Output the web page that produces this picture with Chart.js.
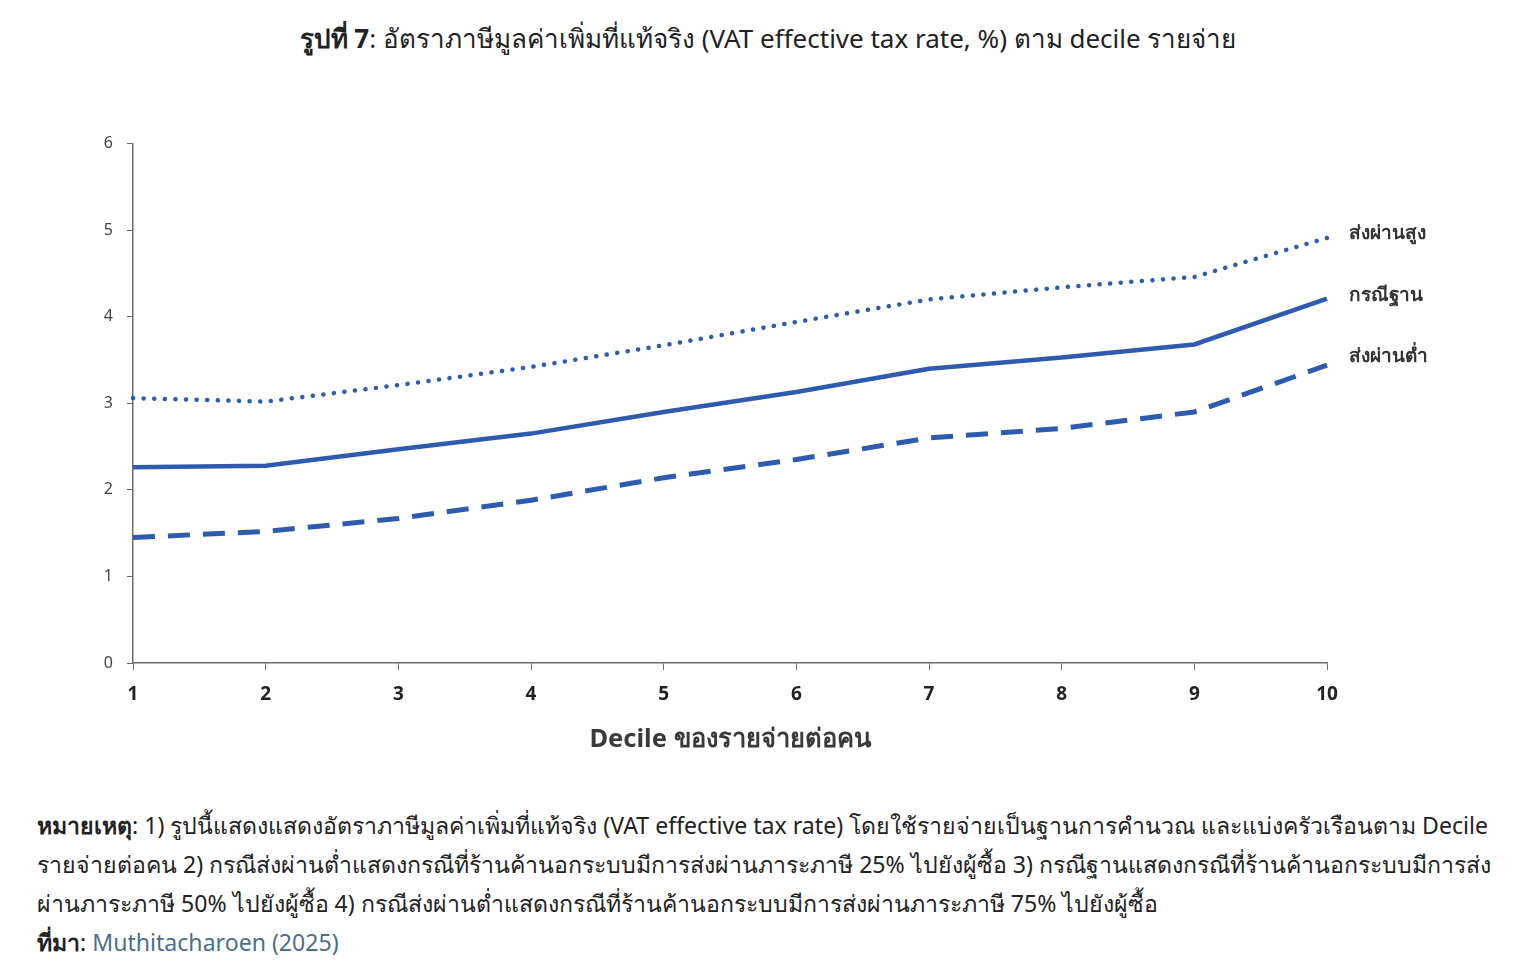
<!DOCTYPE html>
<html>
<head>
<meta charset="utf-8">
<script src="https://cdn.jsdelivr.net/npm/chart.js@4.4.1/dist/chart.umd.min.js"></script>
<style>
    body {
        margin: 0;
        background: #fff;
        width: 1536px;
        height: 972px;
        position: relative;
        overflow: hidden;
        font-family: "Noto Sans", sans-serif;
        color: #222;
    }
    #title {
        position: absolute;
        top: 18px;
        left: 0;
        width: 1536px;
        text-align: center;
        font-size: 26px;
    }
    #chartBox {
        position: absolute;
        top: 120px;
        left: 0;
        width: 1536px;
        height: 650px;
    }
    #notes {
        position: absolute;
        top: 806px;
        left: 37px;
        font-size: 23.1px;
        line-height: 39px;
        white-space: nowrap;
    }
    #notes a {
        color: #4c6f88;
        text-decoration: none;
    }
</style>
</head>
<body>
<div id="title"><b>รูปที่ 7</b>: อัตราภาษีมูลค่าเพิ่มที่แท้จริง (VAT effective tax rate, %) ตาม decile รายจ่าย</div>
<div id="chartBox"><canvas id="vatChart"></canvas></div>
<div id="notes">
    <b>หมายเหตุ</b>: 1) รูปนี้แสดงแสดงอัตราภาษีมูลค่าเพิ่มที่แท้จริง (VAT effective tax rate) โดยใช้รายจ่ายเป็นฐานการคำนวณ และแบ่งครัวเรือนตาม Decile<br>
    รายจ่ายต่อคน 2) กรณีส่งผ่านต่ำแสดงกรณีที่ร้านค้านอกระบบมีการส่งผ่านภาระภาษี 25% ไปยังผู้ซื้อ 3) กรณีฐานแสดงกรณีที่ร้านค้านอกระบบมีการส่ง<br>
    ผ่านภาระภาษี 50% ไปยังผู้ซื้อ 4) กรณีส่งผ่านต่ำแสดงกรณีที่ร้านค้านอกระบบมีการส่งผ่านภาระภาษี 75% ไปยังผู้ซื้อ<br>
    <b>ที่มา</b>: <a href="#">Muthitacharoen (2025)</a>
</div>
<script>
// Data
const deciles = ["1", "2", "3", "4", "5", "6", "7", "8", "9", "10"];
const highPass = [3.06, 3.02, 3.21, 3.42, 3.67, 3.94, 4.2, 4.34, 4.46, 4.91];
const baseCase = [2.26, 2.28, 2.47, 2.65, 2.9, 3.13, 3.4, 3.53, 3.68, 4.21];
const lowPass = [1.45, 1.52, 1.67, 1.88, 2.14, 2.35, 2.6, 2.71, 2.9, 3.44];
const yTicks = [0, 1, 2, 3, 4, 5, 6];

const lineBlue = "#2e5bad";
const axisGrey = "#6b6b6b";

// Series names drawn next to the last point
const endLabels = {
    id: "endLabels",
    afterDatasetsDraw(chart) {
        const ctx = chart.ctx;
        const shift = [-4, -3, -9];
        ctx.save();
        ctx.font = "bold 19px 'Noto Sans', sans-serif";
        ctx.fillStyle = "#333";
        ctx.textBaseline = "middle";
        chart.data.datasets.forEach((ds, i) => {
            const pts = chart.getDatasetMeta(i).data;
            const last = pts[pts.length - 1];
            ctx.fillText(ds.label, last.x + 22, last.y + shift[i]);
        });
        ctx.restore();
    },
};

const ctx = document.getElementById("vatChart").getContext("2d");
const vatChart = new Chart(ctx, {
    type: "line",
    data: {
        labels: deciles,
        datasets: [
            {
                label: "ส่งผ่านสูง",
                data: highPass,
                borderColor: lineBlue,
                borderWidth: 4.5,
                borderDash: [0.1, 10.5],
                borderCapStyle: "round",
                pointRadius: 0,
                tension: 0,
            },
            {
                label: "กรณีฐาน",
                data: baseCase,
                borderColor: lineBlue,
                borderWidth: 4.5,
                pointRadius: 0,
                tension: 0,
            },
            {
                label: "ส่งผ่านต่ำ",
                data: lowPass,
                borderColor: lineBlue,
                borderWidth: 5,
                borderDash: [22, 13],
                pointRadius: 0,
                tension: 0,
            },
        ],
    },
    options: {
        responsive: true,
        maintainAspectRatio: false,
        animation: false,
        layout: {
            padding: { left: 93, right: 209, top: 23, bottom: 0 },
        },
        plugins: {
            legend: { display: false },
            tooltip: { enabled: false },
        },
        scales: {
            x: {
                offset: false,
                afterFit(scale) {
                    scale.height = 107;
                },
                border: { color: axisGrey, width: 1.5 },
                grid: {
                    drawOnChartArea: false,
                    color: axisGrey,
                    tickLength: 7,
                },
                ticks: {
                    color: "#222",
                    padding: 13,
                    font: { family: "'Noto Sans', sans-serif", size: 19, weight: "bold" },
                },
                title: {
                    display: true,
                    text: "Decile ของรายจ่ายต่อคน",
                    color: "#3a3a3a",
                    padding: { top: 0, bottom: 15 },
                    font: { family: "'Noto Sans', sans-serif", size: 25.5, weight: "bold" },
                },
            },
            y: {
                min: 0,
                max: 6,
                afterFit(scale) {
                    scale.width = 40;
                },
                afterBuildTicks(scale) {
                    scale.ticks = yTicks.map((v) => ({ value: v }));
                },
                border: { color: axisGrey, width: 1.5 },
                grid: {
                    drawOnChartArea: false,
                    color: axisGrey,
                    tickLength: 6,
                },
                ticks: {
                    color: "#444",
                    padding: 14,
                    font: { family: "'Noto Sans', sans-serif", size: 16 },
                },
            },
        },
    },
    plugins: [endLabels],
});
</script>
</body>
</html>
